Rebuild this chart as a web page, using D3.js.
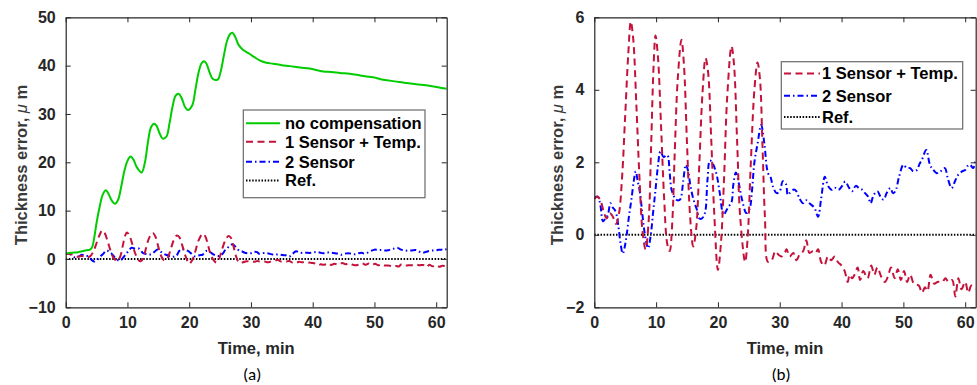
<!DOCTYPE html>
<html><head><meta charset="utf-8">
<script src="https://cdn.jsdelivr.net/npm/d3@7"></script>
<style>
body{margin:0;background:#fff;}
svg{display:block;}
</style></head>
<body>
<svg id="c" width="977" height="385"></svg>
<script>
// ---------- data ----------
const xTicks = [0,10,20,30,40,50,60];
const yTicksA = [-10,0,10,20,30,40,50];
const yTicksB = [-2,0,2,4,6];
const seriesNames = ["no compensation","1 Sensor + Temp.","2 Sensor","Ref."];

const greenT = [0,1,2,3,4,4.3,4.7,5,5.5,6,6.5,7,7.5,8,8.5,9,9.5,10,10.5,11,11.5,12.3,12.8,13.3,13.8,14.3,14.7,15.2,15.7,16.3,16.8,17.3,17.8,18.3,18.8,19.3,19.8,20.5,21,21.5,22,22.4,22.8,23.3,23.8,24.6,25.1,25.6,26.1,26.6,27.0,27.5,28,28.7,29.8,30.5,31.4,32.5,33.6,35,36.3,38,39.5,41.7,43,44.4,46,47.1,48.5,49.8,51,52.5,54,55.2,56.5,57.9,59,60,61.7];
const greenV = [1.1,1.3,1.4,1.7,2.0,2.5,5,7.5,10.8,13.3,14.2,13.3,12.0,11.4,12.3,15,18.2,20.3,21.2,20.5,19,17.9,19.8,24,27.2,28.0,27.6,26,24.9,25.3,28,31.5,33.8,34.2,33.2,31.5,30.8,31.8,35,38.5,40.5,40.9,40.4,38.6,37.3,37.1,38.8,42,45,46.5,46.8,45.8,44.3,43.3,42.4,41.8,41.1,40.6,40.4,40.1,39.9,39.6,39.4,38.8,38.7,38.5,38.3,38.1,37.8,37.6,37.2,36.9,36.6,36.4,36.2,36.0,35.8,35.6,35.2];

const redT = [0,0.5,1.0,1.5,2.0,2.5,3.0,3.5,4.0,4.5,5.0,5.5,5.9,6.3,6.8,7.3,7.8,8.3,8.8,9.2,9.6,9.9,10.3,10.8,11.3,11.8,12.2,12.6,13.0,13.5,14.1,14.5,15.0,15.5,16.0,16.5,17.0,17.5,18.0,18.4,18.9,19.4,20.0,20.5,21.0,21.5,22.2,22.6,23.1,23.6,24.4,24.8,25.3,25.9,26.4,26.8,27.2,27.6,28.1,28.7,29.3,29.8,30.3,30.8,31.1,31.6,32.2,32.7,33.2,33.8,34.3,34.8,35.4,35.8,36.2,36.7,37.2,37.8,38.3,38.9,39.4,40.0,40.5,41.0,41.3,41.7,42.1,42.6,43.0,43.5,44.2,44.8,45.3,45.8,46.4,47.0,47.5,48.0,48.6,49.1,49.6,50.1,50.6,51.1,51.7,52.5,53.0,53.5,53.9,54.4,55.0,55.5,56.3,56.8,57.3,57.9,58.4,58.9,59.4,60.0,60.5,61.0,61.7];
const redV = [1.0,1.05,0.95,0.65,0.45,0.6,0.5,0.3,0.6,1.6,3.3,5.0,5.88,5.4,3.6,1.6,0.1,-0.4,0.4,2.5,4.7,5.5,4.9,3.0,1.0,-0.25,-0.45,0.3,2.2,4.3,5.38,4.7,2.5,0.5,-0.32,0.2,2.0,3.9,4.87,4.5,2.7,0.6,-0.97,-0.2,1.6,3.8,5.2,4.7,2.6,0.5,-0.75,-0.1,1.9,4.0,4.75,4.3,2.5,0.5,-0.75,-0.7,-0.45,-0.55,-0.6,-0.5,-0.4,-0.6,-0.5,-0.7,-0.55,-0.45,-0.15,-0.5,-0.45,-0.5,-0.4,-0.75,-0.85,-0.6,-0.7,-0.6,-0.75,-0.85,-1.0,-1.3,-1.1,-1.2,-1.1,-0.9,-1.25,-1.0,-1.2,-0.85,-1.1,-0.9,-1.15,-1.3,-1.15,-0.9,-1.2,-0.95,-1.25,-1.0,-1.3,-1.1,-1.35,-1.4,-1.6,-1.45,-1.55,-1.1,-1.35,-1.3,-1.3,-1.2,-1.3,-1.25,-1.7,-1.2,-1.5,-1.3,-1.6,-1.4,-1.5];

const blueT = [0,0.3,0.6,1.0,1.4,1.8,2.2,2.6,3.0,3.3,3.6,3.9,4.3,4.6,4.9,5.2,5.6,6.0,6.4,6.7,7.0,7.4,7.7,8.0,8.4,8.7,9.1,9.5,9.9,10.3,10.7,11.2,11.8,12.2,12.5,13.1,13.5,13.9,14.4,14.8,15.2,15.5,16.0,16.6,17.0,17.4,17.9,18.3,18.7,19.2,19.8,20.3,20.9,21.3,21.7,22.2,22.5,22.9,23.4,23.9,24.6,25.1,25.5,25.9,26.4,27.0,27.5,28.1,28.5,28.9,29.5,30.0,30.5,31.0,31.3,31.6,32.3,32.7,33.2,33.8,34.3,34.8,35.6,36.2,36.7,37.3,37.8,38.4,38.9,39.5,40.1,40.6,41.2,41.7,42.3,42.8,43.3,43.8,44.3,44.7,45.2,45.8,46.3,46.8,47.3,47.9,48.3,48.7,49.3,50.0,50.5,51.1,51.6,52.2,52.6,53.0,53.7,54.3,54.8,55.4,56.0,56.7,57.2,57.8,58.4,58.9,59.5,60.0,60.4,60.8,61.3,61.7];
const blueV = [1.0,1.05,1.05,0.8,0.37,0.45,0.55,0.87,0.75,0.69,0.55,0.23,-0.3,-0.52,-0.35,-0.05,0.5,0.97,1.5,1.75,1.5,1.15,0.7,0.23,-0.2,-0.37,-0.05,0.6,1.24,1.9,2.3,2.15,2.2,1.7,1.24,1.0,0.95,0.98,1.5,1.93,1.75,1.4,1.0,0.69,0.45,0.45,0.6,1.5,2.05,1.95,1.65,1.15,0.55,0.65,0.77,0.9,1.4,1.72,1.4,0.97,0.6,0.7,1.2,2.0,2.5,3.03,2.53,1.7,1.6,1.33,1.15,1.2,1.48,1.4,1.1,1.15,1.25,1.2,1.0,0.87,0.95,0.87,0.75,0.5,1.0,1.6,1.35,1.24,1.3,1.24,1.35,1.47,1.3,1.2,1.35,1.29,1.25,1.15,1.05,0.87,1.1,1.2,1.05,0.97,1.15,1.29,1.15,1.2,1.6,1.93,1.85,1.84,1.75,1.79,1.95,2.07,2.34,1.93,1.8,1.7,1.75,1.84,1.55,1.29,1.5,1.66,1.75,1.79,1.9,1.93,1.84,2.07];

const refT = [0,61.7];
const refV = [0,0];

// ---------- drawing ----------
const svg = d3.select("#c");
svg.append("rect").attr("width",977).attr("height",385).attr("fill","#fff");

const axisColor = "#262626";
const FONT = "'Liberation Sans', Arial, Helvetica, sans-serif";
const styles = {
  green:{color:"#00cc00", dash:null},
  red:{color:"#c4123a", dash:"7,4.5"},
  blue:{color:"#0000ff", dash:"6,3,1.5,3"},
  ref:{color:"#000000", dash:"1.5,1.6"}
};
const zip = (t,v)=>t.map((d,i)=>[d,v[i]]);

function panel(opt){
  const x = d3.scaleLinear().domain([0,61.7]).range([opt.x0,opt.x1]);
  const y = d3.scaleLinear().domain(opt.yDomain).range([307.3,17.3]);
  const g = svg.append("g");
  const clipId = "clip"+opt.id;
  svg.append("clipPath").attr("id",clipId).append("rect")
    .attr("x",opt.x0).attr("y",17.3).attr("width",opt.x1-opt.x0).attr("height",290);

  const line = d3.line().x(d=>x(d[0])).y(d=>y(d[1])).curve(d3.curveCatmullRom.alpha(0.5));
  const lines = g.append("g").attr("clip-path",`url(#${clipId})`);
  opt.series.forEach(s=>{
    lines.append("path").datum(zip(s.t,s.v))
      .attr("d",line).attr("fill","none")
      .attr("stroke",styles[s.style].color).attr("stroke-width",2)
      .attr("stroke-dasharray",styles[s.style].dash)
      .attr("stroke-linejoin","round");
  });

  // axes (inward ticks, box)
  const tl = 5;
  const bottom = g.append("g").attr("transform",`translate(0,${y.range()[0]})`)
    .call(d3.axisBottom(x).tickValues(xTicks).tickSizeInner(-tl).tickSizeOuter(0).tickPadding(9));
  const top = g.append("g").attr("transform",`translate(0,${y.range()[1]})`)
    .call(d3.axisTop(x).tickValues(xTicks).tickSizeInner(-tl).tickSizeOuter(0).tickFormat(""));
  const left = g.append("g").attr("transform",`translate(${opt.x0},0)`)
    .call(d3.axisLeft(y).tickValues(opt.yTicks).tickSizeInner(-tl).tickSizeOuter(0).tickPadding(10));
  const right = g.append("g").attr("transform",`translate(${opt.x1},0)`)
    .call(d3.axisRight(y).tickValues(opt.yTicks).tickSizeInner(-tl).tickSizeOuter(0).tickFormat(""));
  [bottom,top,left,right].forEach(a=>{
    a.select(".domain").attr("stroke",axisColor).attr("stroke-width",1.2);
    a.selectAll(".tick line").attr("stroke",axisColor).attr("stroke-width",1);
    a.selectAll("text").attr("fill",axisColor).style("font-family",FONT)
      .style("font-weight","bold").style("font-size","16px");
  });
  bottom.selectAll("text").attr("dy","0.71em");

  // axis titles
  g.append("text").attr("x",(opt.x0+opt.x1)/2).attr("y",354)
    .attr("text-anchor","middle").attr("fill",axisColor)
    .style("font-family",FONT).style("font-weight","bold").style("font-size","16.5px")
    .text("Time, min");
  const yl = g.append("text").attr("transform",`translate(${opt.ylx},165) rotate(-90)`)
    .attr("text-anchor","middle").attr("fill","#3a3a3a")
    .style("font-family",FONT).style("font-weight","bold").style("font-size","16.5px");
  yl.append("tspan").text("Thickness error, ");
  yl.append("tspan").style("font-style","italic").style("font-weight","normal").text("μ");
  yl.append("tspan").text(" m");
  g.append("text").attr("x",(opt.x0+opt.x1)/2-4).attr("y",380)
    .attr("text-anchor","middle").attr("fill","#000")
    .style("font-family","Carlito, Lato, 'Open Sans', sans-serif").style("font-size","17px")
    .text(opt.tag);

  // legend
  const L = opt.legend;
  const lg = g.append("g");
  lg.append("rect").attr("x",L.x).attr("y",L.y).attr("width",L.w).attr("height",L.h)
    .attr("fill","#fff").attr("stroke","#6a6a6a").attr("stroke-width",1.2);
  L.items.forEach((it,i)=>{
    const yy = L.rows[i];
    lg.append("line").attr("x1",L.sx0).attr("x2",L.sx1).attr("y1",yy).attr("y2",yy)
      .attr("stroke",styles[it.style].color).attr("stroke-width",2)
      .attr("stroke-dasharray",styles[it.style].dash);
    lg.append("text").attr("x",L.tx).attr("y",yy).attr("dy","0.36em")
      .attr("fill","#000").style("font-family",FONT).style("font-weight","bold")
      .style("font-size","16.5px").text(it.name);
  });
}

panel({
  id:"a", x0:65.7, x1:446.7, yDomain:[-10,50], yTicks:yTicksA, ylx:27, tag:"(a)",
  series:[
    {t:refT,v:refV,style:"ref"},
    {t:blueT,v:blueV,style:"blue"},
    {t:redT,v:redV,style:"red"},
    {t:greenT,v:greenV,style:"green"}
  ],
  legend:{x:243.3,y:110,w:181.7,h:87.7,sx0:246,sx1:280,tx:285,rows:[123.3,141.7,161.8,180.5],
    items:[{name:seriesNames[0],style:"green"},{name:seriesNames[1],style:"red"},{name:seriesNames[2],style:"blue"},{name:seriesNames[3],style:"ref"}]}
});

panel({
  id:"b", x0:594.3, x1:975.7, yDomain:[-2,6], yTicks:yTicksB, ylx:563, tag:"(b)",
  series:[
    {t:refT,v:refV,style:"ref"},
    {t:blueT,v:blueV,style:"blue"},
    {t:redT,v:redV,style:"red"}
  ],
  legend:{x:781.3,y:61.7,w:181.4,h:67.3,sx0:784,sx1:820,tx:822,rows:[73.5,95.7,117],
    items:[{name:seriesNames[1],style:"red"},{name:seriesNames[2],style:"blue"},{name:seriesNames[3],style:"ref"}]}
});
</script>
</body></html>
